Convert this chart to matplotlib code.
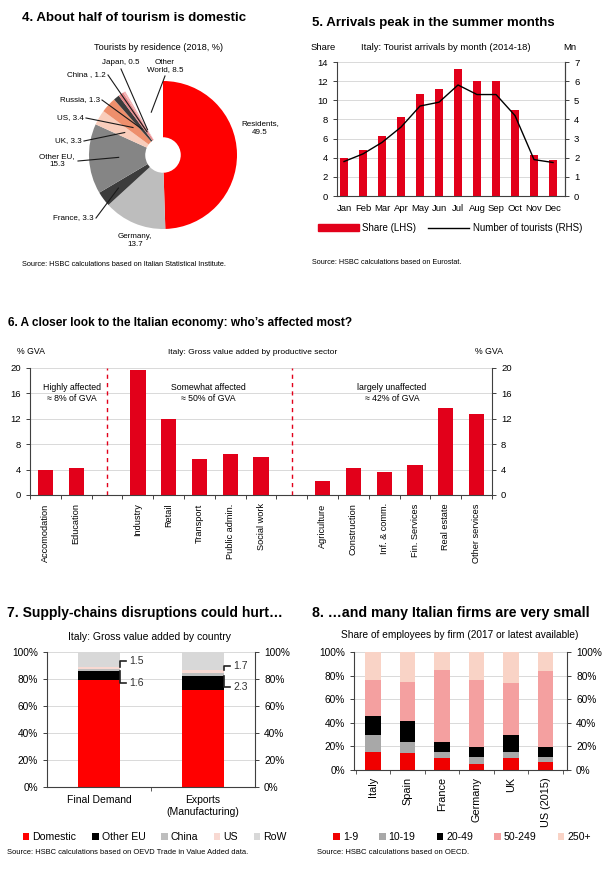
import numpy as np
import matplotlib
matplotlib.use("Agg")
import matplotlib.pyplot as plt
from matplotlib.ticker import PercentFormatter
from matplotlib.patches import Patch
from matplotlib.lines import Line2D

plt.rcParams["font.family"] = ["Liberation Sans", "DejaVu Sans"]

W, H = 611, 873

# ---- chart 4: tourists by residence ----
pie_names = ["Residents,\n49.5", "Germany,\n13.7", "France, 3.3", "Other EU,\n15.3",
             "UK, 3.3", "US, 3.4", "Russia, 1.3", "China , 1.2", "Japan, 0.5",
             "Other\nWorld, 8.5"]
pie_values = [49.5, 13.7, 3.3, 15.3, 3.3, 3.4, 1.3, 1.2, 0.5, 8.5]
pie_colors = ["#FF0000", "#BDBDBD", "#3C3C3C", "#858585", "#F9CDBB",
              "#EE8F6C", "#3C3C3C", "#E8878A", "#F3B5B5", "#FFFFFF"]

# ---- chart 5: arrivals by month ----
months = ["Jan", "Feb", "Mar", "Apr", "May", "Jun", "Jul", "Aug", "Sep", "Oct", "Nov", "Dec"]
share = [4.0, 4.8, 6.3, 8.3, 10.7, 11.2, 13.3, 12.0, 12.0, 9.0, 4.3, 3.8]
tourists_mn = [1.8, 2.2, 2.8, 3.6, 4.7, 4.9, 5.8, 5.3, 5.3, 4.2, 1.9, 1.75]

# ---- chart 6: GVA by sector ----
sector_groups = [
    ["Accomodation", "Education"],
    ["Industry", "Retail", "Transport", "Public admin.", "Social work"],
    ["Agriculture", "Construction", "Inf. & comm.", "Fin. Services", "Real estate", "Other services"],
]
gva = [3.9, 4.2, 19.7, 12.0, 5.6, 6.5, 6.0, 2.2, 4.2, 3.7, 4.8, 13.7, 12.7]
group_notes = ["Highly affected\n\u2248 8% of GVA", "Somewhat affected\n\u2248 50% of GVA",
               "largely unaffected\n\u2248 42% of GVA"]

# ---- chart 7: GVA by country ----
demand_types = ["Final Demand", "Exports\n(Manufacturing)"]
origins = ["Domestic", "Other EU", "China", "US", "RoW"]
domestic = [79.5, 72.0]
other_eu = [6.6, 10.4]
china = [1.6, 2.3]
us = [1.5, 1.7]
row = [10.8, 13.6]
origin_colors = ["#FF0000", "#000000", "#BEBEBE", "#F8D9D2", "#D8D8D8"]

# ---- chart 8: employees by firm size ----
countries = ["Italy", "Spain", "France", "Germany", "UK", "US (2015)"]
firm_sizes = ["1-9", "10-19", "20-49", "50-249", "250+"]
size_1_9 = [15.0, 14.0, 10.4, 5.4, 10.4, 6.5]
size_10_19 = [15.0, 10.0, 4.6, 5.9, 4.6, 4.8]
size_20_49 = [16.0, 17.7, 9.0, 8.4, 14.3, 8.4]
size_50_249 = [30.6, 33.0, 60.5, 56.3, 44.5, 64.3]
size_250 = [23.4, 25.3, 15.5, 24.0, 26.2, 16.0]
size_colors = ["#F00000", "#A8A8A8", "#000000", "#F4A0A0", "#F9D3C6"]

BAR_RED = "#E2001A"
GRID = "#D9D9D9"
SPINE = "#404040"


def box(l, t, r, b):
    return [l / W, 1 - b / H, (r - l) / W, (b - t) / H]


def ftext(x, y, s, **kw):
    kw.setdefault("va", "center")
    return fig.text(x / W, 1 - y / H, s, **kw)


def style_axes(ax):
    for side in ["left", "right", "bottom"]:
        ax.spines[side].set_color(SPINE)
        ax.spines[side].set_linewidth(0.8)
    ax.spines["top"].set_visible(False)
    ax.tick_params(colors=SPINE, labelcolor="black", width=0.7, length=3, labelsize=6.8)
    ax.set_axisbelow(True)
    ax.yaxis.grid(True, color=GRID, lw=0.7)


fig = plt.figure(figsize=(W / 100, H / 100), dpi=100)

# ================= chart 4 =================
ftext(22, 18, "4. About half of tourism is domestic", fontsize=9.5, fontweight="bold")
ftext(158, 47, "Tourists by residence (2018, %)", fontsize=6.6, ha="center")
cx, cy, R = 163, 155, 74
axp = fig.add_axes(box(cx - 80, cy - 80, cx + 80, cy + 80))
wedges, _ = axp.pie(pie_values, colors=pie_colors, startangle=90, counterclock=False,
                    radius=1, wedgeprops=dict(width=0.76, linewidth=0))
axp.set_xlim(-80 / R, 80 / R)
axp.set_ylim(-80 / R, 80 / R)
axp.set_aspect("equal")
axp.axis("off")

# label anchor (fig px), alignment, radius of leader end (None = no leader)
label_pos = [(260, 128, "center", None), (135, 240, "center", None),
             (94, 218, "right", 0.75), (57, 161, "center", 0.6),
             (82, 141, "right", 0.6), (84, 118, "right", 0.55),
             (100, 100, "right", 0.45), (106, 75, "right", 0.38),
             (121, 62, "center", 0.4), (165, 66, "center", 0.6)]
for w, name, (px, py, ha, rr) in zip(wedges, pie_names, label_pos):
    mid = np.deg2rad((w.theta1 + w.theta2) / 2)
    if rr is None:
        axp.annotate(name, xy=(0, 0), xytext=(px, H - py), textcoords="figure pixels",
                     ha=ha, va="center", fontsize=5.8, annotation_clip=False)
        continue
    if ha == "right":
        start = (px + 2, H - py)
    elif name.startswith("Other EU"):
        start = (px + 21, H - py)
    else:
        start = (px, H - py - 7 if "World" not in name else H - py - 10)
    axp.annotate(name, xy=(rr * np.cos(mid), rr * np.sin(mid)), xytext=(px, H - py),
                 textcoords="figure pixels", ha=ha, va="center", fontsize=5.8,
                 annotation_clip=False)
    tx, ty = axp.transData.inverted().transform(np.array(start, dtype=float))
    axp.plot([tx, rr * np.cos(mid)], [ty, rr * np.sin(mid)], color="#1a1a1a", lw=0.8, clip_on=False)

ftext(22, 264, "Source: HSBC calculations based on Italian Statistical Institute.", fontsize=5.3)

# ================= chart 5 =================
ftext(312, 23, "5. Arrivals peak in the summer months", fontsize=9.5, fontweight="bold")
ftext(323, 47, "Share", fontsize=6.8, ha="center")
ftext(446, 47, "Italy: Tourist arrivals by month (2014-18)", fontsize=6.8, ha="center")
ftext(570, 47, "Mn", fontsize=6.8, ha="center")
ax5 = fig.add_axes(box(337, 62, 565, 196))
style_axes(ax5)
x5 = np.arange(len(months))
ax5.bar(x5, share, width=0.42, color=BAR_RED, zorder=2)
ax5.set_ylim(0, 14)
ax5.set_yticks(range(0, 15, 2))
ax5.set_xlim(-0.37, 11.63)
ax5.set_xticks(x5)
ax5.set_xticklabels(months, fontsize=6.8)
ax5.tick_params(axis="x", length=0, pad=6)
ax5r = ax5.twinx()
ax5r.plot(x5, tourists_mn, color="black", lw=1.0)
ax5r.set_ylim(0, 7)
ax5r.set_yticks(range(0, 8))
ax5r.spines["top"].set_visible(False)
ax5r.spines["right"].set_color(SPINE)
ax5r.spines["left"].set_visible(False)
ax5r.spines["bottom"].set_visible(False)
ax5r.tick_params(colors=SPINE, labelcolor="black", width=0.7, length=3, labelsize=6.8)
fig.legend([Patch(color=BAR_RED), Line2D([], [], color="black", lw=1)],
           ["Share (LHS)", "Number of tourists (RHS)"], loc="center",
           bbox_to_anchor=(450 / W, 1 - 228 / H), ncol=2, frameon=False, fontsize=7,
           handlelength=4.2, handleheight=0.6, columnspacing=1.2, handletextpad=0.4)
ftext(312, 263, "Source: HSBC calculations based on Eurostat.", fontsize=5.2)

# ================= chart 6 =================
ftext(8, 323, "6. A closer look to the Italian economy: who\u2019s affected most?", fontsize=8.6,
      fontweight="bold")
ftext(17, 352, "% GVA", fontsize=6.3)
ftext(253, 352, "Italy: Gross value added by productive sector", fontsize=6.0, ha="center")
ftext(503, 352, "% GVA", fontsize=6.3, ha="right")
ax6 = fig.add_axes(box(30, 368, 492, 495))
style_axes(ax6)
x6, names6, seps = [], [], []
pos = 0
for gi, grp in enumerate(sector_groups):
    for name in grp:
        x6.append(pos)
        names6.append(name)
        pos += 1
    if gi < len(sector_groups) - 1:
        seps.append(pos)
        pos += 1
ax6.bar(x6, gva, width=0.5, color=BAR_RED, zorder=2)
bounds = [-0.5] + seps + [pos - 0.5]
note_shift = [0.1, 0.3, 0.0]
for gi, note in enumerate(group_notes):
    ax6.text((bounds[gi] + bounds[gi + 1]) / 2 + note_shift[gi],
             16, note, ha="center", va="center", fontsize=6.3, linespacing=1.3)
for s in seps:
    ax6.plot([s, s], [0, 20], color="#E2001A", lw=1.0, ls=(0, (3, 3)), zorder=3)
ax6.set_xlim(-0.5, pos - 0.5)
ax6.set_ylim(0, 20)
ax6.set_yticks(range(0, 21, 4))
ax6.tick_params(axis="y", right=True, labelright=True)
ax6.set_xticks(x6)
ax6.set_xticklabels(names6, rotation=90, fontsize=6.6)
ax6.set_xticks(np.arange(-0.5, pos, 1), minor=True)
ax6.tick_params(axis="x", which="major", length=0, pad=6)
ax6.tick_params(axis="x", which="minor", length=3, color=SPINE, width=0.7)

# ================= chart 7 =================
ftext(7, 613, "7. Supply-chains disruptions could hurt\u2026", fontsize=10, fontweight="bold")
ftext(150, 637, "Italy: Gross value added by country", fontsize=7.5, ha="center")
ax7 = fig.add_axes(box(47, 652, 255, 787))
style_axes(ax7)
x7 = np.arange(len(demand_types))
bottom = np.zeros(len(demand_types))
stack7 = [domestic, other_eu, china, us, row]
for vals, col, lab in zip(stack7, origin_colors, origins):
    ax7.bar(x7, vals, bottom=bottom, width=0.4, color=col, label=lab, zorder=2)
    bottom += np.array(vals)
ax7.set_xlim(-0.5, 1.5)
ax7.set_ylim(0, 100)
ax7.set_yticks(range(0, 101, 20))
ax7.yaxis.set_major_formatter(PercentFormatter(decimals=0))
ax7.tick_params(axis="y", right=True, labelright=True, labelsize=7.3)
ax7.set_xticks(x7)
ax7.set_xticklabels(demand_types, fontsize=7.5)
ax7.set_xticks([0.5], minor=True)
ax7.tick_params(axis="x", which="major", length=0, pad=6)
ax7.tick_params(axis="x", which="minor", length=3, color=SPINE)
# brackets for China and US shares
label_hi = [93, 89.6]
label_lo = [77, 74]
for i in range(len(demand_types)):
    edge = x7[i] + 0.2
    base_cn = domestic[i] + other_eu[i]
    top_us = base_cn + china[i] + us[i]
    ax7.plot([edge, edge, edge + 0.06], [top_us, label_hi[i], label_hi[i]], color="#222", lw=1.2,
             zorder=3, clip_on=False)
    ax7.plot([edge, edge, edge + 0.06], [base_cn, label_lo[i], label_lo[i]], color="#222", lw=1.2,
             zorder=3, clip_on=False)
    ax7.text(edge + 0.09, label_hi[i], f"{us[i]:.1f}", fontsize=7.5, va="center", color="#333")
    ax7.text(edge + 0.09, label_lo[i], f"{china[i]:.1f}", fontsize=7.5, va="center", color="#333")
h7, l7 = ax7.get_legend_handles_labels()
fig.legend(h7, l7, loc="center", bbox_to_anchor=(155 / W, 1 - 837 / H), ncol=5, frameon=False,
           fontsize=7.6, handlelength=0.6, handleheight=0.6, handletextpad=0.3, columnspacing=1.5)
ftext(7, 852, "Source: HSBC calculations based on OEVD Trade in Value Added data.", fontsize=5.4)

# ================= chart 8 =================
ftext(312, 613, "8. \u2026and many Italian firms are very small", fontsize=10.2, fontweight="bold")
ftext(460, 635, "Share of employees by firm (2017 or latest available)", fontsize=7.3, ha="center")
ax8 = fig.add_axes(box(354, 652, 567, 770))
style_axes(ax8)
x8 = np.arange(len(countries))
bottom = np.zeros(len(countries))
stack8 = [size_1_9, size_10_19, size_20_49, size_50_249, size_250]
for vals, col, lab in zip(stack8, size_colors, firm_sizes):
    ax8.bar(x8, vals, bottom=bottom, width=0.44, color=col, label=lab, zorder=2)
    bottom += np.array(vals)
ax8.set_xlim(-0.55, 5.62)
ax8.set_ylim(0, 100)
ax8.set_yticks(range(0, 101, 20))
ax8.yaxis.set_major_formatter(PercentFormatter(decimals=0))
ax8.tick_params(axis="y", right=True, labelright=True, labelsize=7.3)
ax8.set_xticks(x8)
ax8.set_xticklabels(countries, rotation=90, fontsize=7.8)
ax8.set_xticks(np.arange(-0.5, 5.6, 1), minor=True)
ax8.tick_params(axis="x", which="major", length=0, pad=5)
ax8.tick_params(axis="x", which="minor", length=3, color=SPINE)
h8, l8 = ax8.get_legend_handles_labels()
fig.legend(h8, l8, loc="center", bbox_to_anchor=(462 / W, 1 - 837 / H), ncol=5, frameon=False,
           fontsize=7.6, handlelength=0.6, handleheight=0.6, handletextpad=0.3, columnspacing=2.0)
ftext(317, 852, "Source: HSBC calculations based on OECD.", fontsize=5.5)

fig.savefig("out.png", dpi=100)
